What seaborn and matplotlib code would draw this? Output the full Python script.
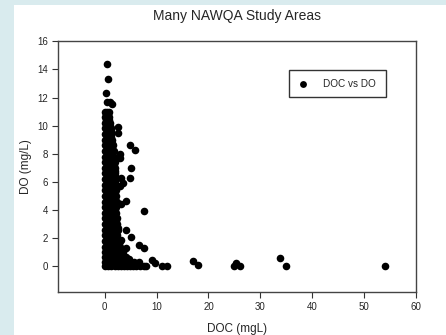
import numpy as np
import pandas as pd
import matplotlib
matplotlib.use("Agg")
import matplotlib.pyplot as plt
import seaborn as sns
from matplotlib.patches import Rectangle

# dense core of the cloud: DO level -> DOC values read along that row
core_rows = {
    0.0: [0.1, 0.7, 1.3, 1.9, 2.5, 3.1, 3.7, 4.3, 4.9, 5.5, 6.1, 6.8, 7.5],
    0.3: [0.1, 0.7, 1.3, 1.9, 2.5, 3.1, 3.7, 4.3, 5.0, 5.6],
    0.65: [0.1, 0.7, 1.3, 1.9, 2.5, 3.1, 3.7],
    1.0: [0.1, 0.7, 1.3, 1.9, 2.5, 3.1, 3.5],
    1.4: [0.1, 0.7, 1.3, 1.9, 2.5, 3.0],
    1.8: [0.1, 0.7, 1.3, 1.9, 2.5, 2.9],
    2.2: [0.1, 0.7, 1.3, 1.9, 2.4],
    2.6: [0.1, 0.7, 1.3, 1.9, 2.5],
    3.0: [0.1, 0.7, 1.3, 1.9, 2.3],
    3.4: [0.1, 0.7, 1.3, 1.9, 2.3],
    3.8: [0.1, 0.7, 1.3, 1.9, 2.2],
    4.2: [0.1, 0.7, 1.3, 1.9, 2.2],
    4.6: [0.1, 0.7, 1.3, 1.9, 2.3],
    5.0: [0.1, 0.7, 1.3, 1.9, 2.2],
    5.4: [0.1, 0.7, 1.3, 1.9, 2.1],
    5.8: [0.1, 0.7, 1.3, 1.9],
    6.2: [0.1, 0.7, 1.3, 1.9, 2.1],
    6.6: [0.1, 0.7, 1.3, 1.9],
    7.0: [0.1, 0.7, 1.3, 1.9],
    7.4: [0.1, 0.7, 1.3, 1.9],
    7.8: [0.1, 0.7, 1.3, 1.8],
    8.2: [0.1, 0.7, 1.3, 1.7],
    8.6: [0.1, 0.7, 1.3, 1.6],
    9.0: [0.1, 0.7, 1.3, 1.5],
    9.4: [0.1, 0.6, 1.2],
    9.8: [0.1, 0.6, 1.2],
    10.2: [0.1, 0.6, 1.1],
    10.6: [0.1, 0.6, 0.9],
    11.0: [0.1, 0.5, 0.8],
}

# in-between rows that close the gaps of the core
core_fill = {
    0.15: [0.4, 1.0, 1.6, 2.2, 2.8, 3.4, 4.0, 4.6, 5.2, 5.8, 6.4],
    0.5: [0.4, 1.0, 1.6, 2.2, 2.8, 3.4, 4.0, 4.6],
    0.8: [0.4, 1.0, 1.6, 2.2, 2.8, 3.4],
    1.2: [0.4, 1.0, 1.6, 2.2, 2.8],
    1.6: [0.4, 1.0, 1.6, 2.2, 2.7],
    2.0: [0.4, 1.0, 1.6, 2.2],
    2.4: [0.4, 1.0, 1.6, 2.2],
    2.8: [0.4, 1.0, 1.6, 2.2],
    3.2: [0.4, 1.0, 1.6, 2.1],
    3.6: [0.4, 1.0, 1.6, 2.0],
    4.0: [0.4, 1.0, 1.6, 2.0],
    4.4: [0.4, 1.0, 1.6, 2.1],
    4.8: [0.4, 1.0, 1.6, 2.0],
    5.2: [0.4, 1.0, 1.6, 2.0],
    5.6: [0.4, 1.0, 1.6, 2.0],
    6.0: [0.4, 1.0, 1.6, 1.9],
    6.4: [0.4, 1.0, 1.6, 1.9],
    6.8: [0.4, 1.0, 1.6, 1.9],
    7.2: [0.4, 1.0, 1.6, 1.8],
    7.6: [0.4, 1.0, 1.6],
    8.0: [0.4, 1.0, 1.5],
    8.4: [0.4, 1.0, 1.5],
    8.8: [0.4, 1.0, 1.4],
    9.2: [0.4, 0.9, 1.3],
    9.6: [0.4, 0.9, 1.2],
    10.0: [0.4, 0.9, 1.1],
    10.4: [0.3, 0.8],
    10.8: [0.3, 0.7],
}

# scattered points outside the core
doc_outer = [0.45, 0.7, 0.25, 0.5, 1.1, 1.35, 2.5, 2.6, 4.9, 5.8, 2.9, 2.9, 5.1, 4.9,
             3.1, 3.6, 3.0, 4.2, 3.2, 7.5, 2.6, 4.1, 5.0, 3.2, 4.2, 6.6, 7.6, 4.1,
             6.7, 9.1, 9.7, 8.0, 11.0, 12.0, 17.0, 18.0, 25.0, 25.4, 26.0, 33.8,
             35.0, 54.0]
do_outer = [14.4, 13.3, 12.3, 11.7, 11.65, 11.55, 9.9, 9.5, 8.6, 8.3, 7.95, 7.7, 7.0, 6.3,
            6.25, 5.9, 5.7, 4.65, 4.4, 3.9, 2.75, 2.6, 2.1, 1.85, 1.3, 1.5, 1.3, 0.65,
            0.3, 0.45, 0.2, 0.05, 0.05, 0.0, 0.4, 0.1, 0.05, 0.25, 0.05, 0.6,
            0.05, 0.05]

doc, do = [], []
for rows in (core_rows, core_fill):
    for y, xs in rows.items():
        doc += xs
        do += [y] * len(xs)
doc += doc_outer
do += do_outer
df = pd.DataFrame({"DOC": doc, "DO": do})

sns.set_style("ticks")
plt.rcParams["font.family"] = ["Liberation Sans", "DejaVu Sans"]

fig = plt.figure(figsize=(4.46, 3.35), dpi=100)
fig.patch.set_facecolor("#d9ebee")
fig.patches.append(Rectangle((14 / 446, 0), 1, 330 / 335, transform=fig.transFigure,
                             facecolor="white", edgecolor="none", zorder=-10))
ax = fig.add_axes([58 / 446, 1 - 292.3 / 335, 358 / 446, 251 / 335])
ax.set_facecolor("white")

sns.scatterplot(data=df, x="DOC", y="DO", color="black", s=30, linewidth=0,
                label="DOC vs DO", ax=ax)

ax.set_xlim(-9, 60)
ax.set_ylim(-1.85, 16)
ax.set_xticks(range(0, 61, 10))
ax.set_yticks(range(0, 17, 2))
ax.tick_params(labelsize=7, length=4, width=0.8, color="#333333", pad=3)
for sp in ax.spines.values():
    sp.set_visible(True)
    sp.set_color("#444444")
    sp.set_linewidth(1)

ax.set_xlabel("DOC (mgL)", fontsize=8.5, labelpad=8)
ax.set_ylabel("DO (mg/L)", fontsize=8.5, labelpad=4)
ax.set_title("Many NAWQA Study Areas", fontsize=10, pad=15)

leg = ax.legend(loc="center", bbox_to_anchor=(0.645, 0.778, 0.271, 0.104), mode="expand",
                borderaxespad=0, fontsize=7.2, frameon=True, fancybox=False,
                edgecolor="black", handlelength=1.2, handletextpad=1.4, borderpad=0.85,
                markerscale=0.9)
leg.get_frame().set_linewidth(1)

fig.savefig("out.png", dpi=100, facecolor=fig.get_facecolor())
